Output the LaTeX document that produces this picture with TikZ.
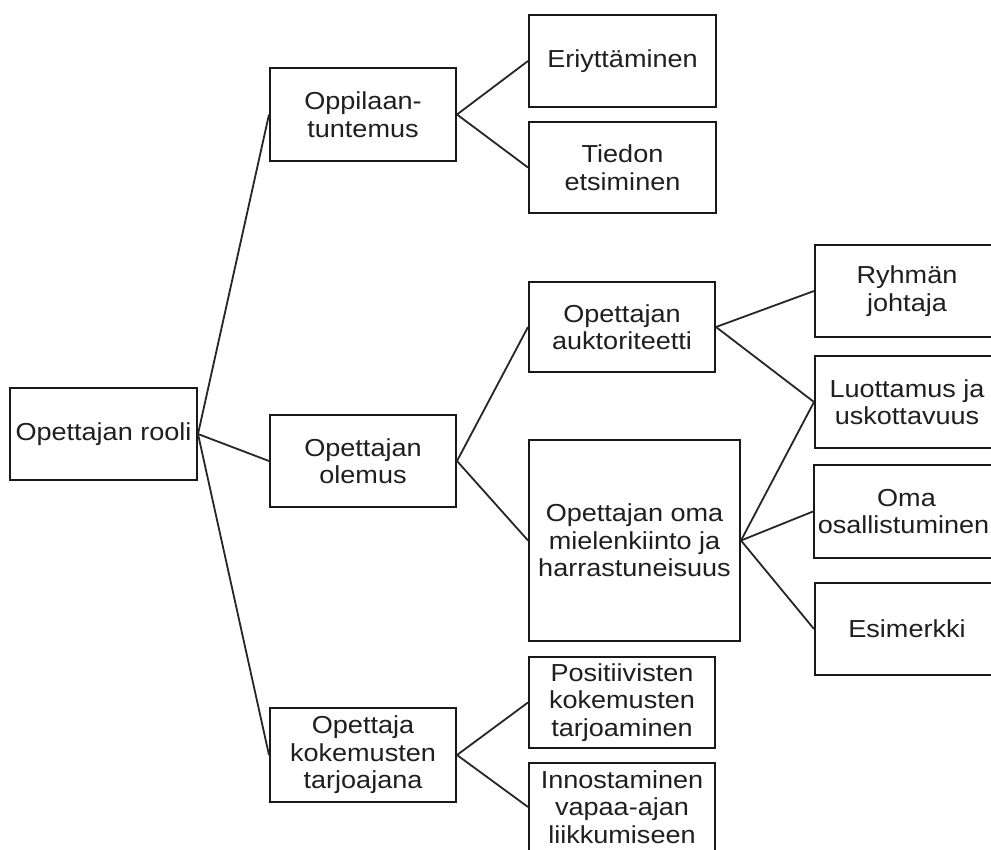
\documentclass[tikz,border=0pt]{standalone}
\usepackage{fontspec}
\setmainfont{Liberation Sans}[FakeStretch=1.1]
\begin{document}
\begin{tikzpicture}[x=1pt,y=-1pt,
  box/.style={draw=black!90, line width=2pt, rectangle, inner sep=0pt,
    align=center, text=black!88, font=\fontsize{24.6}{27.5}\selectfont},
  link/.style={draw=black!85, line width=1.8pt}]
\useasboundingbox (0,0) rectangle (991,850);
\clip (0,0) rectangle (991,850);
\fill[white] (0,0) rectangle (991,850);

% root
\node[box, minimum width=187pt, minimum height=92pt] (rooli) at (103.5,434) {Opettajan rooli};

% second level
\node[box, minimum width=186pt, minimum height=93pt] (oppilaan) at (363,114.5) {Oppilaan-\\tuntemus};
\node[box, minimum width=186pt, minimum height=92pt] (olemus) at (363,461) {Opettajan\\olemus};
\node[box, minimum width=186pt, minimum height=94pt] (kokemus) at (363,755) {Opettaja\\kokemusten\\tarjoajana};

% third level
\node[box, minimum width=187pt, minimum height=92pt] (eriytt) at (622.5,61) {Eriyttäminen};
\node[box, minimum width=187pt, minimum height=91pt] (tiedon) at (622.5,167.5) {Tiedon\\etsiminen};
\node[box, minimum width=186pt, minimum height=90pt] (auktor) at (622,327) {Opettajan\\auktoriteetti};
\node[box, minimum width=211pt, minimum height=201pt] (mielen) at (634.5,540.5) {Opettajan oma\\mielenkiinto ja\\harrastuneisuus};
\node[box, minimum width=186pt, minimum height=91pt] (posit) at (622,702.5) {Positiivisten\\kokemusten\\tarjoaminen};
\node[box, minimum width=186pt, minimum height=88pt] (innost) at (622,807) {Innostaminen\\vapaa-ajan\\liikkumiseen};

% fourth level
\node[box, minimum width=184pt, minimum height=92pt] (ryhma) at (907,291) {Ryhmän\\johtaja};
\node[box, minimum width=184pt, minimum height=92pt] (luott) at (907,402) {Luottamus ja\\uskottavuus};
\node[box, minimum width=185pt, minimum height=93pt] (oma) at (906.5,511.5) {Oma\\[-1pt]\hspace*{-6pt}osallistuminen};
\node[box, minimum width=184pt, minimum height=92pt] (esim) at (907,629) {Esimerkki};

% connectors
\draw[link] (rooli.east) -- (oppilaan.west);
\draw[link] (rooli.east) -- (olemus.west);
\draw[link] (rooli.east) -- (kokemus.west);
\draw[link] (oppilaan.east) -- (eriytt.west);
\draw[link] (oppilaan.east) -- (tiedon.west);
\draw[link] (olemus.east) -- (auktor.west);
\draw[link] (olemus.east) -- (mielen.west);
\draw[link] (kokemus.east) -- (posit.west);
\draw[link] (kokemus.east) -- (innost.west);
\draw[link] (auktor.east) -- (ryhma.west);
\draw[link] (auktor.east) -- (luott.west);
\draw[link] (mielen.east) -- (luott.west);
\draw[link] (mielen.east) -- (oma.west);
\draw[link] (mielen.east) -- (esim.west);
\end{tikzpicture}
\end{document}
